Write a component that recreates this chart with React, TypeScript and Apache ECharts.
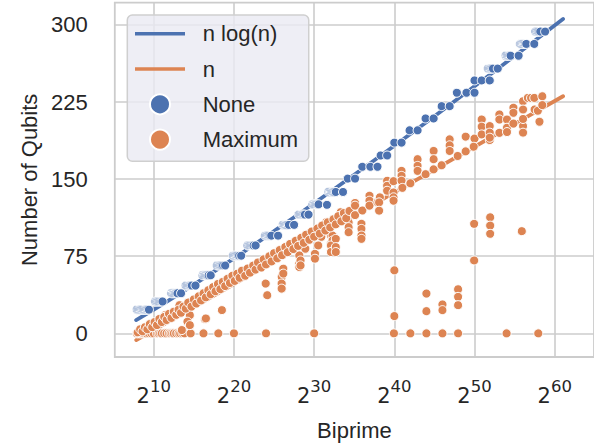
import React, { useEffect, useRef } from "react";
import * as echarts from "echarts";

// x = log2(biprime), y = number of qubits
const xTicks = [10, 20, 30, 40, 50, 60];
const yTicks = [0, 75, 150, 225, 300];

// fitted curves
const nlognCurve: [number, number][] = [
  [7.8, 12.9], [10, 23.0], [15, 47.4], [20, 72.9], [25, 99.4], [30, 126.5],
  [35, 154.3], [40, 182.5], [45, 211.2], [50, 240.3], [55, 269.8], [61.04, 305.8],
];
const nLine: [number, number][] = [
  [7.81, -6.5], [34.4, 112.0], [61.04, 230.6],
];

// "None" scatter
const noneQubits: [number, number][] = [
  [7.9, 23], [8.05, 23], [8.2, 23], [8.35, 23], [8.5, 23], [8.65, 23], [8.8, 23], [8.95, 23], [9.1, 23], [9.25, 23], [9.4, 23],
  [10.2, 31], [10.35, 31], [10.5, 31], [10.65, 31], [10.8, 31], [10.95, 31], [11.1, 31],
  [12.2, 39], [12.35, 39], [12.5, 39], [12.65, 39], [12.8, 39], [12.95, 39], [13.4, 39],
  [14.0, 46.5], [14.15, 46.5], [14.3, 46.5], [14.45, 46.5], [14.6, 46.5], [14.75, 46.5], [15.2, 46.5],
  [16.1, 56.5], [16.25, 56.5], [16.4, 56.5], [16.55, 56.5], [16.7, 56.5], [16.85, 56.5], [17.1, 56.5],
  [17.9, 66], [18.05, 66], [18.2, 66], [18.35, 66], [18.5, 66], [18.65, 66], [18.9, 66],
  [19.9, 75.5], [20.05, 75.5], [20.2, 75.5], [20.35, 75.5], [20.5, 75.5], [20.65, 75.5], [20.9, 75.5],
  [21.7, 85.5], [21.85, 85.5], [22.0, 85.5], [22.15, 85.5], [22.3, 85.5], [22.45, 85.5], [22.7, 85.5],
  [23.9, 95], [24.05, 95], [24.2, 95], [24.35, 95], [24.5, 95], [24.65, 95], [25.5, 95],
  [26.1, 105.5], [26.25, 105.5], [26.4, 105.5], [26.55, 105.5], [26.7, 105.5], [26.85, 105.5], [27.5, 105.5],
  [28.1, 115.5], [28.25, 115.5], [28.4, 115.5], [28.55, 115.5], [28.7, 115.5], [28.85, 115.5], [29.3, 115.5],
  [29.8, 125.5], [29.95, 125.5], [30.1, 125.5], [30.25, 125.5], [30.4, 125.5], [30.55, 125.5], [31.6, 125],
  [31.8, 137.5], [31.95, 137.5], [32.1, 137.5], [32.25, 137.5], [32.4, 137.5], [32.55, 137.5], [32.7, 137.5], [33.6, 137.5],
  [34.2, 150.5], [35.1, 150.5],
  [36.0, 162], [37.0, 162], [37.9, 162],
  [38.3, 173], [39.1, 173],
  [40.0, 185.5], [40.9, 185.5],
  [41.9, 197.5], [42.9, 197.5],
  [43.9, 209], [44.9, 209],
  [45.9, 221], [46.9, 221],
  [47.8, 234], [49.0, 234], [50.0, 234],
  [50.0, 246], [50.9, 246], [51.9, 246],
  [51.7, 257.5], [51.85, 257.5], [52.0, 257.5], [52.15, 257.5], [52.3, 257.5], [52.9, 257.5],
  [53.9, 270], [54.05, 270], [54.2, 270], [54.35, 270], [54.5, 270], [55.5, 270],
  [55.7, 281.5], [55.85, 281.5], [56.0, 281.5], [56.15, 281.5], [56.3, 281.5], [56.45, 281.5], [57.45, 281.5],
  [57.6, 293.5], [57.75, 293.5], [57.9, 293.5], [58.05, 293.5], [58.2, 293.5], [58.8, 293.5],
];

// "Maximum" scatter: zero row
const maxZeroRow: [number, number][] = [
  [7.9, 0], [8.1, 0], [8.3, 0], [8.5, 0], [8.7, 0], [8.9, 0], [9.1, 0], [9.4, 0], [9.7, 0],
  [10.0, 0], [10.4, 0], [10.6, 0], [10.8, 0], [11.0, 0], [11.3, 0], [11.6, 0], [11.9, 0],
  [12.1, 0], [12.3, 0], [12.5, 0], [12.8, 0], [13.1, 0], [13.3, 0], [13.6, 0], [13.8, 0],
  [14.6, 0], [16.2, 0], [18.05, 0], [20.0, 0], [24.0, 0],
  [30.0, 0], [39.95, 0], [42.0, 0], [44.0, 0], [46.0, 0], [47.95, 0], [54.0, 0], [57.95, 0],
];
// "Maximum" scatter: points below the band
const maxLow: [number, number][] = [
  [40.0, 61.3], [40.0, 16.8], [44.0, 38.7], [44.0, 21.6], [46.0, 28.1], [46.0, 22.6],
  [47.95, 42.9], [47.95, 35.5], [47.95, 27.4], [49.95, 106.5], [49.95, 70.9],
  [51.95, 112.9], [51.95, 104.8], [51.95, 96.8], [55.9, 99.4],
  [16.4, 13.8], [14.5, 17.7], [14.2, 11.3], [13.2, 27.4], [13.2, 19.4], [11.4, 17.7],
  [16.5, 14.5], [18.5, 22.6], [13.5, 3.2], [14.5, 8],
  [24.15, 37.1], [23.96, 48.4], [25.95, 54.9], [25.95, 48.4], [25.95, 43.5],
  [28.15, 75.8], [28.15, 67.7], [28.15, 64.5], [30.1, 77.4], [30.1, 72.6],
  [32.1, 95.1], [32.1, 87.1], [35.9, 106.5], [35.9, 101.6], [35.9, 95.1], [35.9, 91.9],
  [34.3, 108.1], [34.3, 103.3], [34.3, 98.4], [33.3, 117.8], [33.3, 114.5],
  [32.3, 95.1], [32.3, 90.3], [32.1, 85.5], [32.1, 79.1], [31.5, 108.1], [31.5, 103.3],
  [30.9, 93.9], [32.7, 91.9], [32.7, 83.9], [32.7, 79.1], [28.3, 70.9], [28.3, 66.1],
  [26.15, 62.9], [26.15, 58.1], [28.9, 82.3], [30.5, 85.5],
];
// "Maximum" scatter: main band
const maxBand: [number, number][] = [
  [8.0, 1], [8.3, 4], [8.6, 2], [8.9, 6], [9.2, 4], [9.5, 9], [9.8, 6], [10.1, 11],
  [10.4, 8], [10.7, 14], [11.0, 11], [11.3, 16], [11.6, 13], [11.9, 19], [12.2, 15],
  [12.5, 21], [12.8, 18], [13.1, 23], [13.4, 20], [13.7, 26], [14.0, 24], [14.3, 30],
  [14.7, 26], [15.0, 33], [15.3, 29], [15.6, 36], [15.9, 32], [16.2, 39], [16.5, 35],
  [16.8, 42], [17.1, 38], [17.4, 45], [17.7, 41], [18.0, 48], [18.3, 43], [18.6, 50],
  [18.9, 46], [19.2, 53], [19.5, 49], [19.8, 56], [20.1, 51], [20.4, 58], [20.7, 54],
  [21.0, 61], [21.4, 56], [21.7, 63], [22.0, 59], [22.4, 66], [22.7, 62], [23.0, 69],
  [23.4, 64], [23.7, 72], [24.0, 67], [24.4, 75], [24.7, 70], [25.0, 78], [25.4, 73],
  [25.7, 81], [26.0, 76], [26.4, 84], [26.7, 79], [27.0, 87], [27.4, 82], [27.7, 90],
  [28.0, 85], [28.4, 93], [28.7, 88], [29.0, 96], [29.4, 91], [29.7, 99], [30.0, 94],
  [30.4, 102], [30.7, 97], [31.0, 105], [31.4, 100], [31.7, 108], [32.0, 103], [32.4, 111],
  [32.7, 106], [33.0, 114], [33.4, 109], [33.7, 117], [34.0, 112], [34.4, 119],
  [35.1, 126.8], [35.1, 124.2], [35.1, 115], [36.0, 119.5], [36.9, 133.8], [36.9, 129],
  [36.9, 124.2], [37.9, 127.5], [38.2, 132.3], [38.1, 127.4], [38.1, 119.3], [39.1, 148.4],
  [39.1, 143.5], [39.1, 138.7], [39.9, 148], [39.9, 137], [39.9, 132.3], [39.9, 129],
  [40.9, 158], [40.9, 153.2], [40.9, 148.4], [41.0, 141.5], [42.0, 146], [42.9, 169.4],
  [42.9, 162.9], [42.9, 158], [43.9, 154.8], [44.9, 177.4], [44.9, 169.4], [44.9, 159.5],
  [45.9, 163.5], [46.9, 188.7], [46.9, 182.9], [46.9, 177.4], [47.9, 172.5], [48.9, 191.3],
  [48.9, 177], [50.0, 189.4], [49.9, 181.5], [50.9, 208], [50.9, 201], [50.9, 193.5],
  [51.9, 201.6], [51.9, 195.2], [51.9, 188], [51.9, 190.3], [53.1, 212.9], [53.1, 208],
  [53.1, 195], [54.05, 208], [54.05, 200], [54.05, 195.8], [54.85, 219.4], [54.85, 214.5],
  [54.85, 204], [56.05, 225.8], [56.05, 217.7], [56.05, 201.6], [56.05, 195.2],
  [56.05, 208.5], [56.65, 229], [57.05, 229], [57.45, 229], [57.5, 217.7], [57.9, 216.5],
  [58.1, 205.8], [58.45, 230.6], [58.45, 222],
];

const BLUE = "#4C72B0";
const ORANGE = "#DD8452";
const TEXT = "#262626";
const GRIDC = "#cccccc";
const LINE_ICON = "path://M0,0H50V3.6H0Z";

export default function App() {
  const ref = useRef<HTMLDivElement>(null);
  useEffect(() => {
    document.body.style.margin = "0";
    const chart = echarts.init(ref.current!, null, { renderer: "svg" });
    const dot = (color: string) => ({
      color,
      borderColor: "#ffffff",
      borderWidth: 1,
      opacity: 1,
    });
    chart.setOption({
      animation: false,
      backgroundColor: "#ffffff",
      grid: {
        left: 114.8,
        top: 2.7,
        width: 499.6,
        height: 355.6,
        show: true,
        backgroundColor: "#ffffff",
        borderColor: GRIDC,
        borderWidth: 1.8,
      },
      legend: {
        orient: "vertical",
        left: 127.3,
        top: 15,
        itemWidth: 50,
        itemHeight: 20,
        itemGap: 13.3,
        padding: [7.7, 10.7, 10.7, 7.7],
        backgroundColor: "rgba(234,234,242,0.8)",
        borderColor: "#cfcfcf",
        borderWidth: 1.5,
        borderRadius: 5,
        textStyle: {
          fontSize: 22,
          color: TEXT,
          fontFamily: "Liberation Sans",
          lineHeight: 20,
          padding: [0, 0, 0, 12.7],
        },
        data: [
          { name: "n log(n)", icon: LINE_ICON },
          { name: "n", icon: LINE_ICON },
          { name: "None", icon: "circle" },
          { name: "Maximum", icon: "circle" },
        ],
      },
      xAxis: {
        type: "value",
        min: 5.14,
        max: 64.9,
        axisLine: { show: false },
        axisTick: { show: false, customValues: xTicks },
        axisLabel: {
          customValues: xTicks,
          margin: 21.4,
          formatter: (v: number) => `{b|2}{s|${v}}`,
          rich: {
            b: {
              fontSize: 21,
              lineHeight: 28,
              fontFamily: "DejaVu Sans",
              color: TEXT,
              verticalAlign: "bottom",
            },
            s: {
              fontSize: 16.5,
              lineHeight: 16.5,
              fontFamily: "DejaVu Sans",
              color: TEXT,
              verticalAlign: "top",
            },
          },
        },
        splitLine: { show: true, lineStyle: { color: GRIDC, width: 1.6 } },
        name: "Biprime",
        nameLocation: "middle",
        nameGap: 62,
        nameTextStyle: { fontSize: 22, color: TEXT, fontFamily: "Liberation Sans" },
      },
      yAxis: {
        type: "value",
        min: -23.0,
        max: 321.6,
        axisLine: { show: false },
        axisTick: { show: false, customValues: yTicks },
        axisLabel: {
          customValues: yTicks,
          margin: 27,
          fontSize: 22,
          color: TEXT,
          fontFamily: "Liberation Sans",
        },
        splitLine: { show: true, lineStyle: { color: GRIDC, width: 1.6 } },
        name: "Number of Qubits",
        nameLocation: "middle",
        nameGap: 70,
        nameTextStyle: { fontSize: 22, color: TEXT, fontFamily: "Liberation Sans" },
      },
      series: [
        {
          name: "n log(n)",
          type: "line",
          data: nlognCurve,
          symbol: "none",
          smooth: 0.3,
          color: BLUE,
          lineStyle: { color: BLUE, width: 3.8, cap: "round" },
          z: 2,
        },
        {
          name: "n",
          type: "line",
          data: nLine,
          symbol: "none",
          color: ORANGE,
          lineStyle: { color: ORANGE, width: 3.8, cap: "round" },
          z: 2,
        },
        {
          name: "None",
          type: "scatter",
          data: noneQubits,
          symbolSize: 9,
          itemStyle: dot(BLUE),
          z: 3,
        },
        {
          name: "Maximum",
          type: "scatter",
          data: [...maxZeroRow, ...maxLow, ...maxBand],
          symbolSize: 9,
          itemStyle: dot(ORANGE),
          z: 4,
        },
      ],
    });
    return () => chart.dispose();
  }, []);
  return (
    <div
      ref={ref}
      style={{ width: 594, height: 446, overflow: "hidden", position: "relative" }}
    />
  );
}
